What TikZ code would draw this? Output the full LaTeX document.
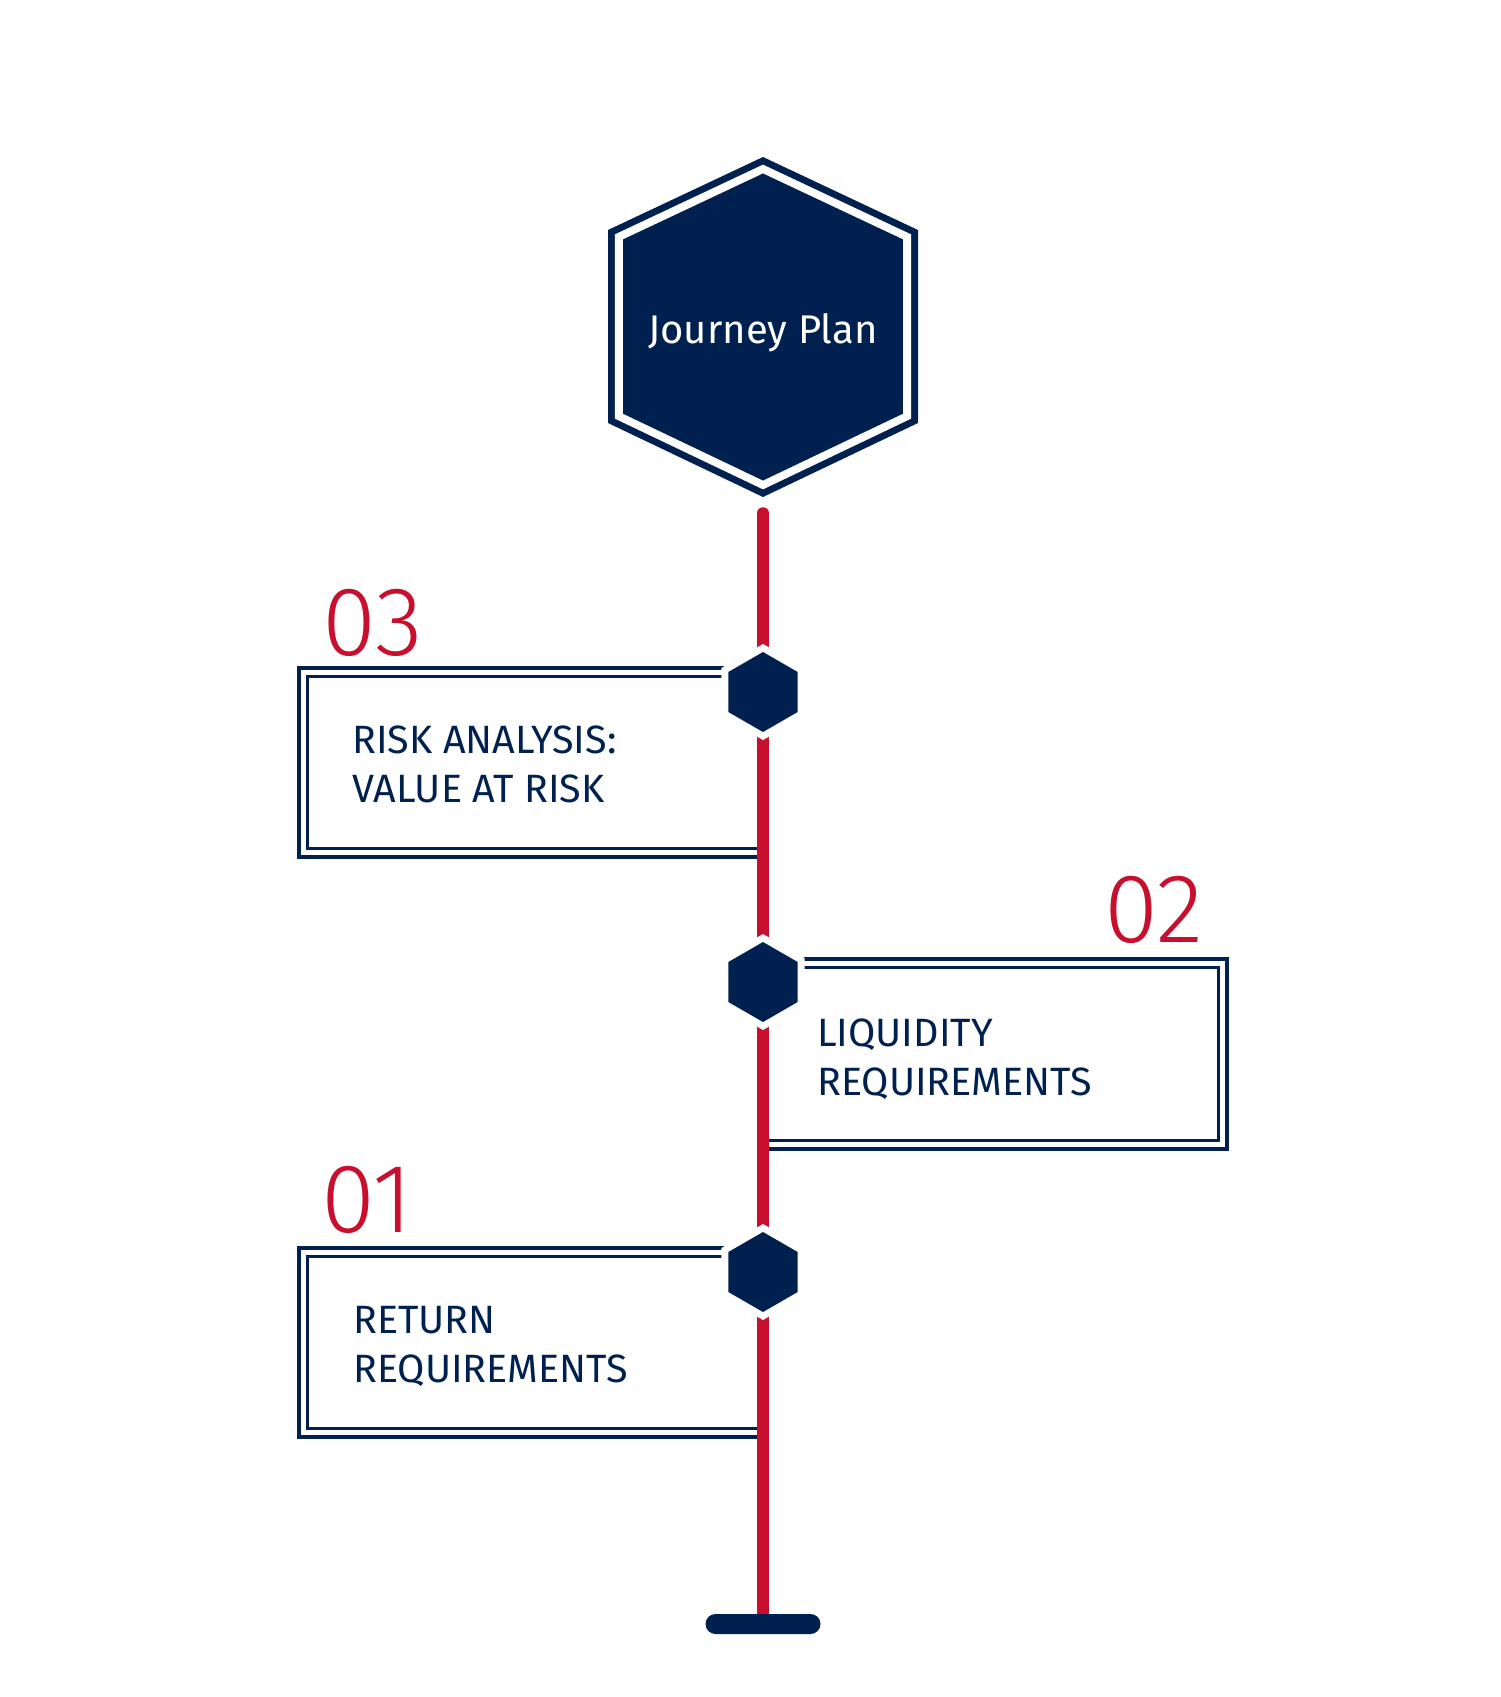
\documentclass[tikz,border=0pt]{standalone}
\usepackage{fontspec}
\setmainfont{Fira Sans}
\newfontfamily\thinfont{Fira Sans Light}
\usetikzlibrary{calc}
\definecolor{navy}{RGB}{0,33,80}
\definecolor{crimson}{RGB}{200,16,46}

\tikzset{
  frame/.style = {draw=navy, line width=3.5pt},
  caption/.style = {text=navy, font=\fontsize{39.5}{49}\selectfont, align=left, anchor=north west, inner sep=0pt},
  stepnum/.style = {text=crimson, font=\thinfont\fontsize{98}{98}\selectfont, anchor=base west, inner sep=0pt},
  pics/stop/.style = {code={
    \fill [white] (90:48) -- (150:48) -- (210:48) -- (270:48) -- (330:48) -- (30:48) -- cycle;
    \fill [navy] (90:40) -- (150:40) -- (210:40) -- (270:40) -- (330:40) -- (30:40) -- cycle;
  }}
}

\begin{document}
\begin{tikzpicture}[x=1pt, y=-1pt]
  \useasboundingbox (0,0) rectangle (1500,1697);

  % main hexagon, ring and fill
  \begin{scope}[shift={(763,327)}]
    \foreach \s/\c in {1/navy, 0.955/white, 0.903/navy}
      \fill [\c, scale=\s] (0,-170) -- (155,-97) -- (155,96) -- (0,170) -- (-155,96) -- (-155,-97) -- cycle;
  \end{scope}
  \node [text=white, font=\fontsize{40}{40}\selectfont, anchor=base] (plan) at (763,343) {Journey Plan};

  % double frames
  \draw [frame] (763,668) -- (299,668) -- (299,857) -- (763,857);
  \draw [frame] (763,676.5) -- (307.5,676.5) -- (307.5,848.5) -- (763,848.5);
  \draw [frame] (763,959) -- (1227,959) -- (1227,1149) -- (763,1149);
  \draw [frame] (763,967.5) -- (1218.5,967.5) -- (1218.5,1140.5) -- (763,1140.5);
  \draw [frame] (763,1248) -- (299,1248) -- (299,1437) -- (763,1437);
  \draw [frame] (763,1256.5) -- (307.5,1256.5) -- (307.5,1428.5) -- (763,1428.5);

  % spine
  \coordinate (top) at (763,513);
  \coordinate (foot) at (763,1624);
  \draw [crimson, line width=11.5pt, line cap=round] (top) -- (foot);

  \coordinate (h3) at (763,692);
  \coordinate (h2) at (763,982);
  \coordinate (h1) at (763,1272);
  \foreach \h in {h1,h2,h3}
    \pic at (\h) {stop};

  \node [stepnum] (n3) at (322,655) {03};
  \node [stepnum] (n2) at (1104,942) {02};
  \node [stepnum] (n1) at (321,1232) {01};

  \node [caption] (risk) at (352,726) {RISK ANALYSIS:\\VALUE AT RISK};
  \node [caption] (liquidity) at (817,1019) {LIQUIDITY\\REQUIREMENTS};
  \node [caption] (return) at (353,1306) {RETURN\\REQUIREMENTS};

  \node [fill=navy, rounded corners=10pt, minimum width=115pt, minimum height=20pt, inner sep=0pt] (bar) at (foot) {};
\end{tikzpicture}
\end{document}
